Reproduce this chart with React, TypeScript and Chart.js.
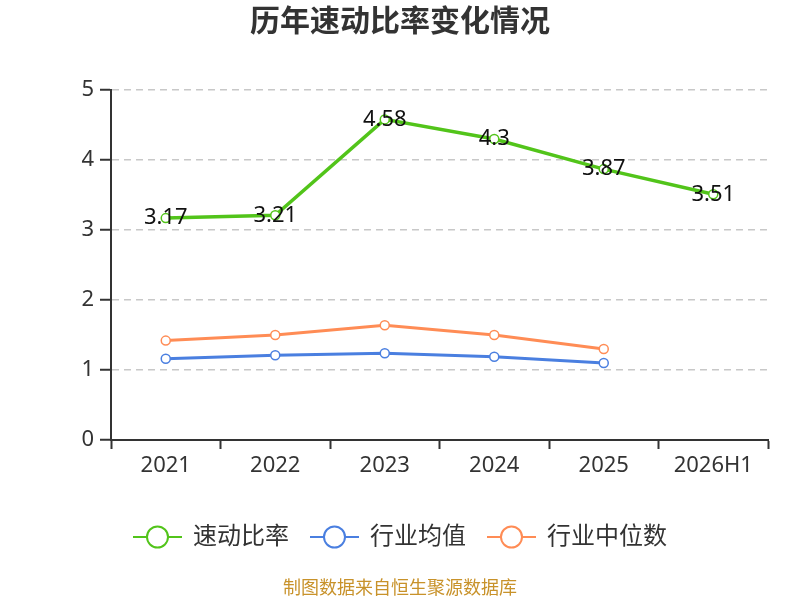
import React, { useEffect, useRef } from "react";
import { Chart, registerables } from "chart.js";

Chart.register(...registerables);

const categories = ["2021", "2022", "2023", "2024", "2025", "2026H1"];
const quickRatio = [3.17, 3.21, 4.58, 4.3, 3.87, 3.51];
const industryAvg = [1.16, 1.21, 1.24, 1.19, 1.1, null];
const industryMedian = [1.42, 1.5, 1.64, 1.5, 1.3, null];
const seriesNames = ["速动比率", "行业均值", "行业中位数"];
const yTicks = [0, 1, 2, 3, 4, 5];

const FONT = '"Noto Sans", "Noto Sans CJK SC", sans-serif';
const COLORS = ["#52c41a", "#4a7fe0", "#ff8c55"];

const overlayPlugin = {
  id: "overlay",
  afterDatasetsDraw(chart: any) {
    const ctx = chart.ctx;
    ctx.save();
    const meta = chart.getDatasetMeta(0);
    ctx.font = `22px ${FONT}`;
    ctx.fillStyle = "#111";
    ctx.textAlign = "center";
    ctx.textBaseline = "middle";
    meta.data.forEach((pt: any, i: number) => {
      ctx.fillText(String(quickRatio[i]), pt.x, pt.y);
    });
    ctx.restore();
  },
  afterDraw(chart: any) {
    const ctx = chart.ctx;
    const w = chart.width;
    ctx.save();
    ctx.font = `bold 30px ${FONT}`;
    ctx.fillStyle = "#333";
    ctx.textAlign = "center";
    ctx.textBaseline = "middle";
    ctx.fillText("历年速动比率变化情况", w / 2, 22);

    ctx.font = `24px ${FONT}`;
    const symW = 49;
    const gap = 11;
    const itemGap = 21;
    const widths = seriesNames.map((n) => symW + gap + ctx.measureText(n).width);
    const total = widths.reduce((a, b) => a + b, 0) + itemGap * (seriesNames.length - 1);
    let x = w / 2 - total / 2;
    const y = 537;
    seriesNames.forEach((n, i) => {
      ctx.strokeStyle = COLORS[i];
      ctx.lineWidth = 2;
      ctx.beginPath();
      ctx.moveTo(x, y);
      ctx.lineTo(x + symW, y);
      ctx.stroke();
      ctx.beginPath();
      ctx.arc(x + symW / 2, y, 10.5, 0, Math.PI * 2);
      ctx.fillStyle = "#fff";
      ctx.fill();
      ctx.stroke();
      ctx.fillStyle = "#333";
      ctx.textAlign = "left";
      ctx.textBaseline = "middle";
      ctx.fillText(n, x + symW + gap, y);
      x += widths[i] + itemGap;
    });

    ctx.font = `18px ${FONT}`;
    ctx.fillStyle = "#c8922a";
    ctx.textAlign = "center";
    ctx.fillText("制图数据来自恒生聚源数据库", w / 2, 589);
    ctx.restore();
  },
};

export default function App() {
  const ref = useRef<HTMLCanvasElement | null>(null);
  useEffect(() => {
    document.body.style.margin = "0";
    const mk = (label: string, data: any[], color: string, width: number) => ({
      label,
      data,
      borderColor: color,
      backgroundColor: "#fff",
      borderWidth: width,
      pointRadius: 4.5,
      pointBorderWidth: 1.5,
      pointBackgroundColor: "#fff",
      pointBorderColor: color,
      tension: 0,
      spanGaps: false,
    });
    const chart = new Chart(ref.current as HTMLCanvasElement, {
      type: "line",
      data: {
        labels: categories,
        datasets: [
          mk(seriesNames[0], quickRatio, COLORS[0], 3.5),
          mk(seriesNames[1], industryAvg, COLORS[1], 3),
          mk(seriesNames[2], industryMedian, COLORS[2], 3),
        ],
      },
      options: {
        animation: false,
        responsive: false,
        devicePixelRatio: 1,
        layout: { padding: { top: 90, left: 0, right: 32, bottom: 120 } },
        plugins: {
          legend: { display: false },
          title: { display: false },
          tooltip: { enabled: false },
        },
        scales: {
          x: {
            type: "category",
            offset: true,
            grid: {
              offset: true,
              drawOnChartArea: false,
              drawTicks: true,
              tickLength: 9,
              tickColor: "#333",
              tickWidth: 2,
            },
            border: { color: "#333", width: 2 },
            ticks: {
              color: "#333",
              font: { family: FONT, size: 22 },
              padding: 4,
            },
            afterFit(scale: any) {
              scale.height = 40;
            },
          },
          y: {
            min: 0,
            max: 5,
            afterBuildTicks(scale: any) {
              scale.ticks = yTicks.map((v) => ({ value: v }));
            },
            grid: {
              color: "#c8c8c8",
              lineWidth: 1.5,
              tickColor: "#333",
              tickWidth: 2,
              tickLength: 11,
              tickBorderDash: [],
            } as any,
            border: { color: "#333", width: 2, dash: [7, 5] } as any,
            ticks: {
              color: "#333",
              font: { family: FONT, size: 22 },
              padding: 6,
            },
            afterFit(scale: any) {
              scale.width = 111;
            },
          },
        },
      } as any,
      plugins: [overlayPlugin],
    });
    return () => chart.destroy();
  }, []);
  return <canvas ref={ref} width={800} height={600} style={{ display: "block" }} />;
}
